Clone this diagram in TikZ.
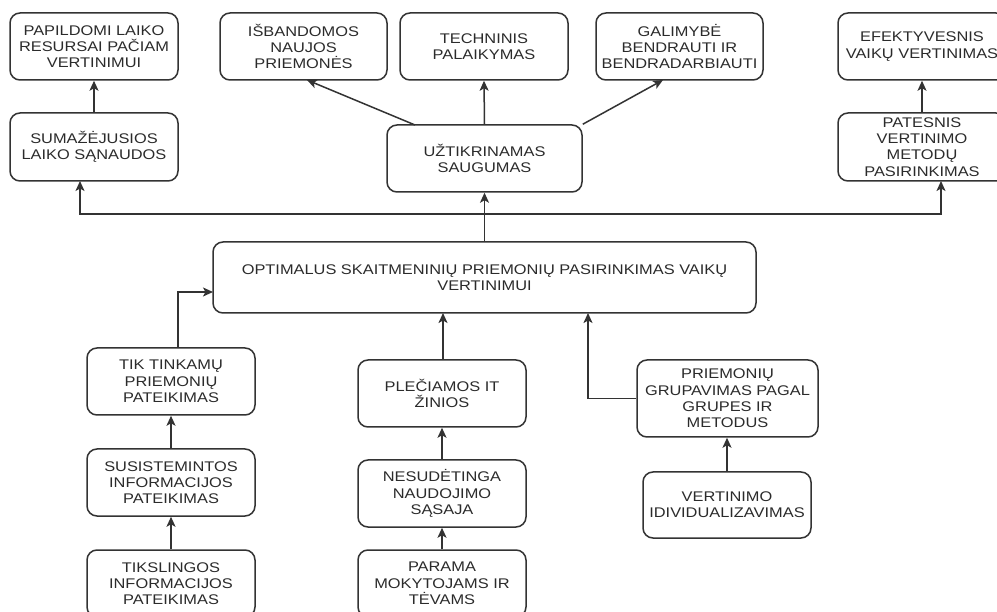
\documentclass[tikz,border=0pt]{standalone}
\usepackage{fontspec}
\setmainfont{Liberation Sans}[FakeStretch=1.17]
\usetikzlibrary{arrows.meta,calc}
\definecolor{ink}{HTML}{2B2B2B}
\definecolor{edge}{HTML}{333333}
\tikzset{
  box/.style={draw=edge, line width=1.5pt, rounded corners=10pt, fill=white,
    inner sep=0pt, align=center, text=ink,
    font=\fontsize{14}{16.3}\selectfont},
  arr/.style={draw=edge, line width=1.5pt,
    -{Stealth[length=10pt,width=9pt,inset=2.5pt]}},
  ln/.style={draw=edge, line width=1.5pt}
}
\begin{document}
\begin{tikzpicture}[x=1pt,y=-1pt]
\clip (0,0) rectangle (997,612);
\fill[white] (0,0) rectangle (997,612);

% upper row
\node[box, minimum width=168pt, minimum height=67pt] (pap) at (94,46.5)
  {PAPILDOMI LAIKO\\RESURSAI PAČIAM\\VERTINIMUI};
\node[box, minimum width=167pt, minimum height=67pt] (isb) at (303.5,46.5)
  {IŠBANDOMOS\\NAUJOS\\PRIEMONĖS};
\node[box, minimum width=168pt, minimum height=67pt] (tech) at (484,46.5)
  {TECHNINIS\\PALAIKYMAS};
\node[box, minimum width=167pt, minimum height=67pt] (gal) at (679.5,46.5)
  {GALIMYBĖ\\BENDRAUTI IR\\BENDRADARBIAUTI};
\node[box, minimum width=168pt, minimum height=67pt] (efk) at (922,46.5)
  {EFEKTYVESNIS\\VAIKŲ VERTINIMAS};

% second row
\node[box, minimum width=168pt, minimum height=68pt] (sum) at (94,147)
  {SUMAŽĖJUSIOS\\LAIKO SĄNAUDOS};
\node[box, minimum width=195pt, minimum height=67pt] (uzt) at (484.5,158.5)
  {UŽTIKRINAMAS\\SAUGUMAS};
\node[box, minimum width=168pt, minimum height=68pt] (pat) at (922,147)
  {PATESNIS\\VERTINIMO\\METODŲ\\PASIRINKIMAS};

% central node
\node[box, minimum width=543pt, minimum height=71pt] (opt) at (484.5,277.5)
  {OPTIMALUS SKAITMENINIŲ PRIEMONIŲ PASIRINKIMAS VAIKŲ\\VERTINIMUI};

% left column
\node[box, minimum width=168pt, minimum height=67pt] (tik) at (171,381.5)
  {TIK TINKAMŲ\\PRIEMONIŲ\\PATEIKIMAS};
\node[box, minimum width=168pt, minimum height=67pt] (sus) at (171,482.5)
  {SUSISTEMINTOS\\INFORMACIJOS\\PATEIKIMAS};
\node[box, minimum width=168pt, minimum height=67pt] (tiks) at (171,583.5)
  {TIKSLINGOS\\INFORMACIJOS\\PATEIKIMAS};

% middle column
\node[box, minimum width=168pt, minimum height=67pt] (ple) at (442,393.5)
  {PLEČIAMOS IT\\ŽINIOS};
\node[box, minimum width=168pt, minimum height=67pt] (nes) at (442,493.5)
  {NESUDĖTINGA\\NAUDOJIMO\\SĄSAJA};
\node[box, minimum width=168pt, minimum height=67pt] (par) at (442,583.5)
  {PARAMA\\MOKYTOJAMS IR\\TĖVAMS};

% right column
\node[box, minimum width=181pt, minimum height=77pt] (pri) at (727.5,398.5)
  {PRIEMONIŲ\\GRUPAVIMAS PAGAL\\GRUPES IR\\METODUS};
\node[box, minimum width=168pt, minimum height=66pt] (ver) at (727,505)
  {VERTINIMO\\IDIVIDUALIZAVIMAS};

% helper points
\coordinate (bus) at (484,214);
\coordinate (sumin) at (80,181);
\coordinate (patin) at (941,181);
\coordinate (uztnw) at (415,125);
\coordinate (isbin) at (307,80);
\coordinate (galin) at (663,80);
\coordinate (tikout) at (178,348);
\coordinate (optw) at (213,292);
\coordinate (plein) at (443,313);
\coordinate (priin) at (588,313);

% connectors from the central node upwards
\draw[arr] (opt.north) -- (uzt.south);
\draw[arr] (bus) -| (sumin);
\draw[arr] (bus) -| (patin);
\draw[arr] (sum.north) -- (pap.south);
\draw[arr] (pat.north) -- (efk.south);
\draw[arr] (uztnw) -- (isbin);
\draw[arr] (uzt.north) -- (tech.south);
\draw[arr] (uzt.north east) -- (galin);

% connectors into the central node
\draw[arr] (tikout) |- (optw);
\draw[arr] (ple.north -| plein) -- (plein);
\draw[arr] (pri.west) -| (priin);
\draw[arr] (sus.north) -- (tik.south);
\draw[arr] (tiks.north) -- (sus.south);
\draw[arr] (nes.north) -- (ple.south);
\draw[arr] (par.north) -- (nes.south);
\draw[arr] (ver.north) -- (pri.south -| ver.north);
\end{tikzpicture}
\end{document}
